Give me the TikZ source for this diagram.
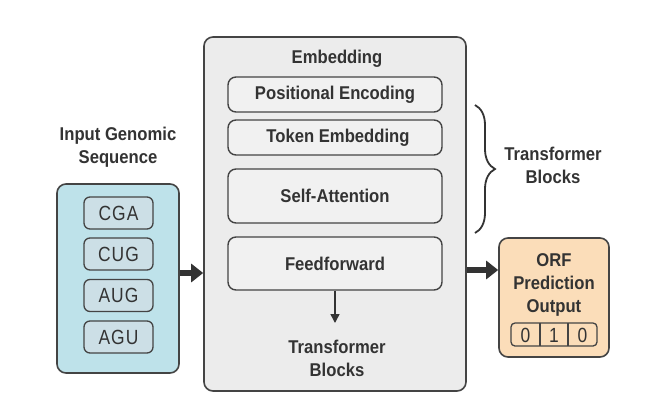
\documentclass[tikz,border=0pt]{standalone}
\usepackage{fontspec}
\setmainfont{Liberation Sans}[FakeStretch=0.9]
\newfontfamily\codonfont{Liberation Sans}[FakeStretch=0.85,LetterSpace=5]
\usetikzlibrary{arrows.meta,decorations.pathreplacing,calc}
\definecolor{ink}{HTML}{333333}
\definecolor{edge}{HTML}{444444}
\definecolor{mainfill}{HTML}{ECECEC}
\definecolor{subfill}{HTML}{F1F1F1}
\definecolor{bluefill}{HTML}{BEE2EA}
\definecolor{codonfill}{HTML}{CCDFE6}
\definecolor{orangefill}{HTML}{FBDDB9}
\tikzset{
  lbl/.style={font=\fontsize{18.5}{23}\selectfont\bfseries, text=ink, align=center, inner sep=0pt},
  mainbox/.style={draw=edge, fill=mainfill, line width=1.6pt, rounded corners=9pt, minimum width=262pt, minimum height=354pt, inner sep=0pt},
  subbox/.style={draw=edge, fill=subfill, line width=1.4pt, rounded corners=8pt, minimum width=214pt, inner sep=0pt, lbl},
  seqbox/.style={draw=edge, fill=bluefill, line width=1.6pt, rounded corners=9pt, minimum width=122pt, minimum height=189pt, inner sep=0pt},
  codon/.style={draw=edge, fill=codonfill, line width=1.3pt, rounded corners=6pt, minimum width=69pt, minimum height=32pt, inner sep=0pt, font=\codonfont\fontsize{20.5}{22}\selectfont, text=ink},
  outbox/.style={draw=edge, fill=orangefill, line width=1.6pt, rounded corners=9pt, minimum width=110pt, minimum height=119pt, inner sep=0pt},
  bitbox/.style={draw=edge, line width=1.3pt, rounded corners=4pt, minimum width=86pt, minimum height=23pt, inner sep=0pt},
  bit/.style={font=\codonfont\fontsize{20.5}{22}\selectfont, text=ink, inner sep=0pt},
  bigarrow/.style={draw=ink, line width=6pt, -{Triangle[length=12pt,width=18pt]}},
  smallarrow/.style={draw=ink, line width=1.5pt, -{Triangle[length=9pt,width=9pt]}},
}
\begin{document}
\begin{tikzpicture}[x=1pt,y=-1pt]
\useasboundingbox[fill=white] (0,0) rectangle (649,400);
% main container
\node[mainbox] (main) at (335,214) {};
\node[lbl] (emb) at (337,59) {Embedding};
\node[subbox, minimum height=35pt] (pos) at (335,94.5) {Positional Encoding};
\node[subbox, minimum height=35pt] (tok) at (335,137.5) {\hspace{6pt}Token Embedding};
\node[subbox, minimum height=54pt] (self) at (335,196) {Self-Attention};
\node[subbox, minimum height=53pt] (ff) at (335,263.5) {Feedforward};
\coordinate (ffend) at (335,323);
\draw[smallarrow] (ff.south) -- (ffend);
\node[lbl] (tb) at (337,358) {Transformer\\Blocks};
% input
\node[lbl] (intitle) at (118,147) {Input Genomic\\Sequence};
\node[seqbox] (seq) at (118,278.5) {};
\node[codon] (c1) at (118.5,213) {CGA};
\node[codon] (c2) at (118.5,254) {CUG};
\node[codon] (c3) at (118.5,295.5) {AUG};
\node[codon] (c4) at (118.5,337) {AGU};
\coordinate (inA) at (seq.east |- 0,273);
\coordinate (inB) at (main.west |- 0,273);
\draw[bigarrow] (inA) -- (inB);
% brace
\coordinate (bt) at (475,105);
\coordinate (bb) at (475,233);
\draw[draw=ink, line width=1.8pt, decorate, decoration={brace, amplitude=20pt}] (bt) -- (bb);
\node[lbl] (tb2) at (553,165) {Transformer\\Blocks};
% output
\node[outbox] (orf) at (554,297.5) {};
\node[lbl] (orftext) at (554,284.5) {ORF\\Prediction\\Output};
\node[bitbox] (bits) at (554,334.5) {};
\draw[draw=edge, line width=1.3pt] (540,323) -- (540,346) (568,323) -- (568,346);
\node[bit] (b1) at (525.5,335) {0};
\node[bit] (b2) at (554,335) {1};
\node[bit] (b3) at (582.5,335) {0};
\coordinate (outA) at (main.east |- 0,270);
\coordinate (outB) at (orf.west |- 0,270);
\draw[bigarrow] (outA) -- (outB);
\end{tikzpicture}
\end{document}
